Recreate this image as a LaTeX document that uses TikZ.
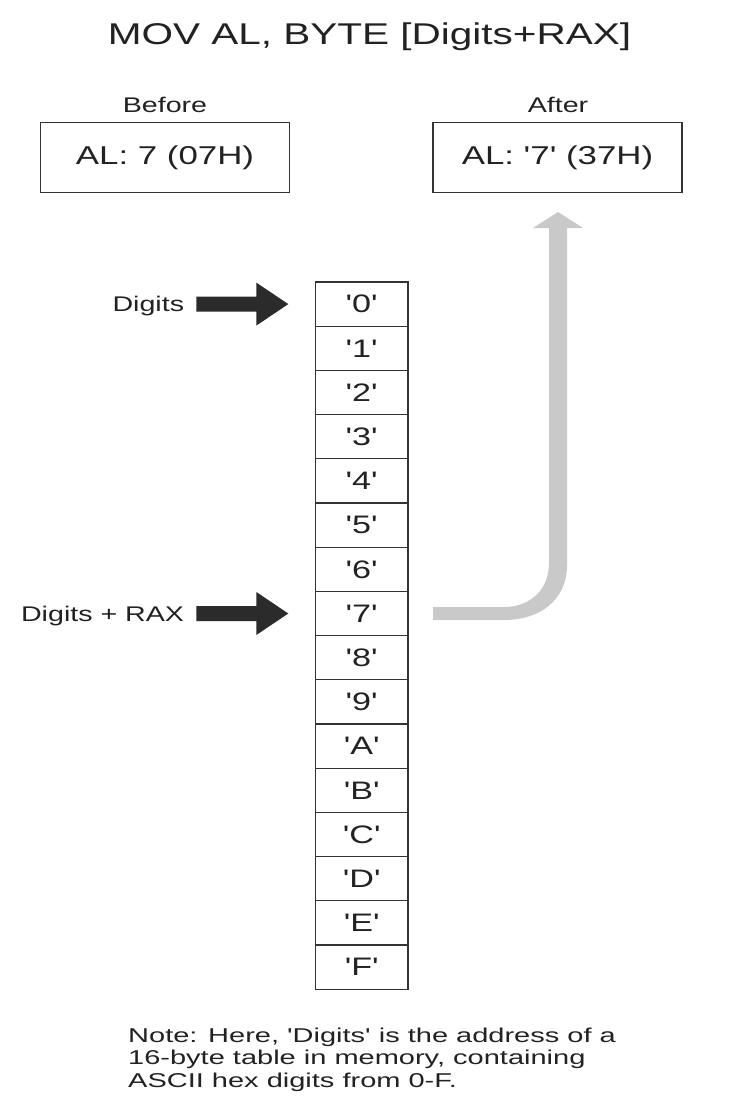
\documentclass[tikz,border=0pt]{standalone}
\usepackage{fontspec}
\setmainfont{Liberation Sans}[FakeStretch=1.35,Ligatures=TeXOff]
\newfontfamily\notefont{Liberation Sans}[FakeStretch=1.45,Ligatures=TeXOff]
\usetikzlibrary{calc}
\definecolor{ink}{HTML}{222222}
\definecolor{frame}{HTML}{333333}
\definecolor{blk}{HTML}{2B2B2B}
\definecolor{lgray}{HTML}{C9C9C9}
\begin{document}
\begin{tikzpicture}[x=1pt,y=-1pt,
  cell/.style={draw=frame, line width=1.3pt, minimum width=92.5pt, minimum height=44.2pt, inner sep=0pt, font=\fontsize{25.3}{30}\selectfont, text=ink},
  regbox/.style={draw=frame, line width=1.3pt, minimum width=249pt, minimum height=70pt, inner sep=0pt, font=\fontsize{25.8}{30}\selectfont, text=ink},
  lbl/.style={font=\fontsize{21.2}{25}\selectfont, text=ink, inner sep=0pt},
  blockarrow/.style={fill=blk}]
\useasboundingbox (0,0) rectangle (730,1100);
\fill[white] (0,0) rectangle (730,1100);

% title
\node[lbl, font=\fontsize{30}{35}\selectfont, anchor=base] (title) at (369.5,44) {MOV AL, BYTE [Digits+RAX]};

% before / after
\node[lbl, anchor=base] (lbefore) at (165,112) {Before};
\node[lbl, anchor=base] (lafter) at (558,112) {After};
\node[regbox] (before) at (165,157.5) {AL: 7 (07H)};
\node[regbox] (after) at (557.5,157.5) {AL: '7' (37H)};

% table cells
\foreach \t [count=\i from 0] in {0,1,2,3,4,5,6,7,8,9,A,B,C,D,E,F}
  \node[cell] (c\i) at (361.7,{304.1+44.2*\i}) {'\t'};

% pointer arrows
\fill[blockarrow] ($(c0.west)+(-26.5,0)$) -- ++(-32,-21.5) -- ++(0,14) -- ++(-60,0) -- ++(0,15) -- ++(60,0) -- ++(0,14) -- cycle;
\node[lbl, anchor=base east] (ldigits) at ($(c0.west)+(-130.5,7)$) {Digits};
\fill[blockarrow] ($(c7.west)+(-26.5,0)$) -- ++(-32,-21.5) -- ++(0,14) -- ++(-60,0) -- ++(0,15) -- ++(60,0) -- ++(0,14) -- cycle;
\node[lbl, anchor=base east] (lrax) at ($(c7.west)+(-130.5,7.5)$) {Digits + RAX};

% gray result arrow from '7' up to After box
\fill[lgray] (433,607) -- (504,607) .. controls (530,607) and (549,590) .. (549,563)
  -- (549,228) -- (533,228) -- (558,212) -- (583,228) -- (567,228)
  -- (567,565) .. controls (567,600) and (540,620) .. (504,620) -- (433,620) -- cycle;

% note
\node[lbl, anchor=north west, align=left, font=\notefont\fontsize{20}{22.7}\selectfont] (note) at (128,1027.5)
  {Note: Here, 'Digits' is the address of a\\16-byte table in memory, containing\\ASCII hex digits from 0-F.};
\end{tikzpicture}
\end{document}
